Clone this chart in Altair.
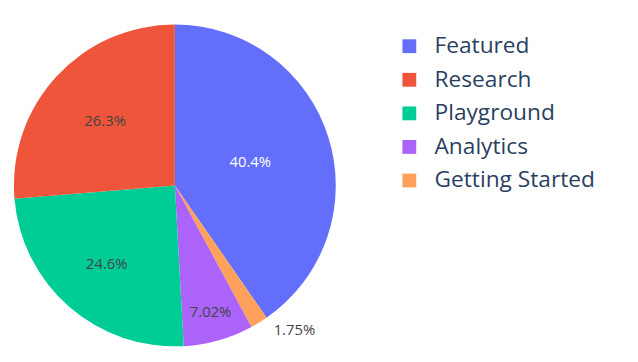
import altair as alt
import pandas as pd

# slice order (clockwise from 12 o'clock)
categories = ["Featured", "Getting Started", "Analytics", "Playground", "Research"]
counts = [23, 1, 4, 14, 15]
legend_order = ["Featured", "Research", "Playground", "Analytics", "Getting Started"]
legend_colors = ["#636efa", "#EF553B", "#00cc96", "#ab63fa", "#FFA15A"]

df = pd.DataFrame({"category": categories, "count": counts, "idx": list(range(len(categories)))})

FONT = "Open Sans"
CX, CY = 169, 177.5
R = 163

base = alt.Chart(df).transform_joinaggregate(
    total="sum(count)"
).transform_calculate(
    pct="datum.count / datum.total"
)

theta = alt.Theta("count:Q", stack=True)
order = alt.Order("idx:Q")

pie = base.mark_arc(radius=R).encode(
    theta=theta,
    order=order,
    x=alt.value(CX),
    y=alt.value(CY),
    color=alt.Color(
        "category:N",
        scale=alt.Scale(domain=legend_order, range=legend_colors),
        legend=alt.Legend(
            title=None,
            orient="none",
            legendX=395,
            legendY=25,
            labelFont=FONT,
            labelFontSize=23,
            labelColor="#2a3f5f",
            symbolType="square",
            symbolSize=196,
            symbolStrokeWidth=0,
            rowPadding=10,
            labelOffset=14,
            padding=0,
            labelLimit=300,
        ),
    ),
)

def label_layer(cat, radius, color, **kw):
    return base.transform_calculate(
        lab=f"datum.category == '{cat}' ? format(datum.pct, '.3p') : ''"
    ).mark_text(radius=radius, font=FONT, fontSize=15, color=color, **kw).encode(
        theta=theta,
        order=order,
        x=alt.value(CX),
        y=alt.value(CY),
        text="lab:N",
    )

labels = [
    label_layer("Featured", 80, "white"),
    label_layer("Research", 96, "#444444"),
    label_layer("Playground", 105, "#444444"),
    label_layer("Analytics", 133, "#444444"),
    label_layer("Getting Started", 172, "#444444", align="left", dx=10),
]

chart = alt.layer(pie, *labels).properties(
    width=630, height=346, padding=0, autosize=alt.AutoSizeParams(type="none")
).configure_view(stroke=None)

chart.save("out.html", embed_options={"renderer": "svg", "actions": False})
